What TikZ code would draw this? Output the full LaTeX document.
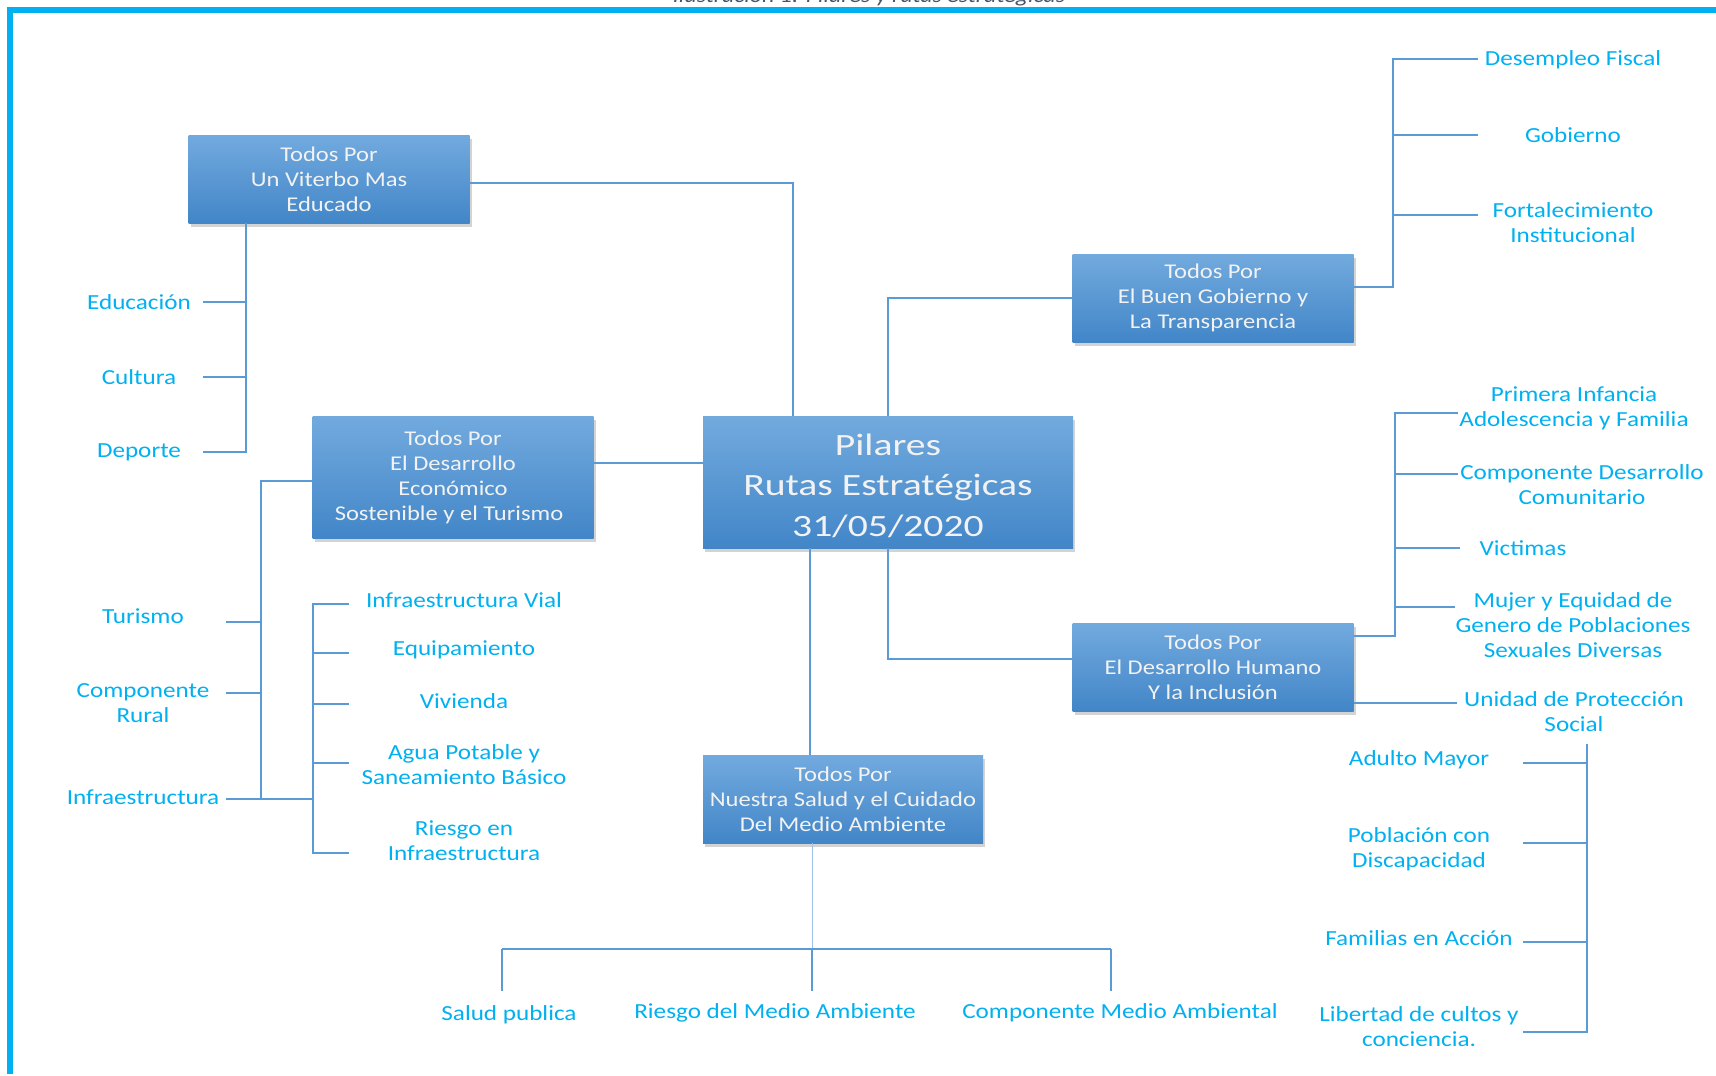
\documentclass[tikz,border=0pt]{standalone}
\usepackage{fontspec}
\setmainfont{Carlito}[FakeStretch=1.17]
\newfontfamily\fuentecentral{Carlito}[FakeStretch=1.28]
\usetikzlibrary{shadows}
\definecolor{celeste}{HTML}{00B0F0}
\definecolor{linea}{HTML}{5B9BD5}
\definecolor{lineafina}{HTML}{9DC3E6}
\definecolor{cajaarriba}{RGB}{114,170,222}
\definecolor{cajaabajo}{RGB}{66,134,200}
\definecolor{leyenda}{HTML}{44546A}
\begin{document}
\begin{tikzpicture}[x=1pt, y=-1pt,
  pilar/.style={rectangle, inner sep=0pt, minimum width=281, minimum height=88, top color=cajaarriba, bottom color=cajaabajo, text=white!95!black, align=center, font=\fontsize{21}{25}\selectfont, drop shadow={shadow xshift=2pt, shadow yshift=-4pt, opacity=0.35}},
  etiq/.style={inner sep=0pt, align=center, text=celeste, font=\fontsize{21.5}{25}\selectfont},
  rama/.style={draw=linea, line width=2pt},
  fina/.style={draw=lineafina, line width=1pt}]
\useasboundingbox (0,0) rectangle (1716,1076);
\fill[celeste] (7,7) rectangle (1716,13);
\fill[celeste] (7,7) rectangle (13,1074);
\node[anchor=base, text=leyenda, font=\fontsize{20.5}{24}\selectfont\itshape] (titulo) at (869,2) {Ilustración 1: Pilares y rutas estratégicas};
\node[pilar] (edu) at (329,179) {Todos Por\\Un Viterbo Mas\\Educado};
\node[pilar, minimum width=370, minimum height=132, font=\fontsize{31}{40.5}\fuentecentral] (pil) at (888,482) {\rule{0pt}{29pt}Pilares\\Rutas Estratégicas\\31/05/2020};
\node[pilar, minimum height=122] (eco) at (453,477) {Todos Por\\El Desarrollo\\Económico\\Sostenible y el Turismo\hspace*{8pt}};
\node[pilar] (gob) at (1213,298) {Todos Por\\El Buen Gobierno y\\La Transparencia};
\node[pilar] (hum) at (1213,667) {Todos Por\\El Desarrollo Humano\\Y la Inclusión};
\node[pilar, minimum width=280] (sal) at (843,799) {Todos Por\\Nuestra Salud y el Cuidado\\Del Medio Ambiente};
\draw[rama] ([yshift=-4pt]edu.east) -| ([xshift=-95pt]pil.north);
\draw[rama] (pil.north) |- (gob.west);
\draw[rama] ([yshift=14pt]eco.east) -- ([yshift=14pt]eco.east -| pil.west);
\draw[rama] ([xshift=-78pt]pil.south) -- ([xshift=-78pt]pil.south |- sal.north);
\draw[rama] (pil.south) |- ([yshift=8pt]hum.west);
\node[etiq, minimum width=128] (educ) at (139,302) {Educación};
\node[etiq, minimum width=128] (cult) at (139,377) {Cultura};
\node[etiq, minimum width=128] (depo) at (139,452) {Deporte};
\coordinate (llaveA) at ([xshift=-83pt]edu.south);
\draw[rama] (llaveA) |- (depo.east);
\draw[rama] (educ.east) -- (educ.east -| llaveA);
\draw[rama] (cult.east) -- (cult.east -| llaveA);
\node[etiq, minimum width=166] (turi) at (143,616) {Turismo};
\node[etiq, minimum width=166] (crur) at (143,703) {Componente\\Rural};
\node[etiq, minimum width=166] (infr) at (143,797) {Infraestructura};
\coordinate (llaveB) at ([xshift=-51pt,yshift=-4pt]eco.west);
\coordinate (llaveC) at (313,799);
\draw[rama] ([yshift=-4pt]eco.west) -- (llaveB) |- ([yshift=-2pt]infr.east);
\draw[rama] ([yshift=-6pt]turi.east) -- ([yshift=-6pt]turi.east -| llaveB);
\draw[rama] ([yshift=10pt]crur.east) -- ([yshift=10pt]crur.east -| llaveB);
\draw[rama] ([yshift=-2pt]infr.east) -- (llaveC);
\node[etiq, minimum width=230] (ivia) at (464,600) {Infraestructura Vial};
\node[etiq, minimum width=230] (equi) at (464,650) {Equipamiento};
\node[etiq, minimum width=230] (vivi) at (464,701) {Vivienda};
\node[etiq, minimum width=230] (agua) at (464,765) {Agua Potable y\\Saneamiento Básico};
\node[etiq, minimum width=230] (ries) at (464,841) {Riesgo en\\Infraestructura};
\draw[rama] ([yshift=-4pt]ivia.west) -| ([yshift=-12pt]ries.west -| llaveC) -- ([yshift=-12pt]ries.west);
\draw[rama] ([yshift=-3pt]equi.west) -- ([yshift=-3pt]equi.west -| llaveC);
\draw[rama] ([yshift=-3pt]vivi.west) -- ([yshift=-3pt]vivi.west -| llaveC);
\draw[rama] ([yshift=2pt]agua.west) -- ([yshift=2pt]agua.west -| llaveC);
\node[etiq, minimum width=190] (dfis) at (1573,60) {Desempleo Fiscal};
\node[etiq, minimum width=190] (gobi) at (1573,135) {Gobierno};
\node[etiq, minimum width=190] (fort) at (1573,223) {Fortalecimiento\\Institucional};
\coordinate (llaveD) at ([xshift=39pt,yshift=11pt]gob.east);
\draw[rama] ([yshift=11pt]gob.east) -- (llaveD) |- ([yshift=1pt]dfis.west);
\draw[rama] (gobi.west) -- (gobi.west -| llaveD);
\draw[rama] ([yshift=8pt]fort.west) -- ([yshift=8pt]fort.west -| llaveD);
\node[etiq, minimum width=232] (pinf) at (1574,408) {Primera Infancia\\Adolescencia y Familia};
\node[etiq, minimum width=248] (cdes) at (1582,485) {Componente Desarrollo\\Comunitario};
\node[etiq, minimum width=126] (vict) at (1523,548) {Victimas};
\node[etiq, minimum width=230] (mujer) at (1573,625) {Mujer y Equidad de\\Genero de Poblaciones\\Sexuales Diversas};
\node[etiq, minimum width=234] (unid) at (1574,712) {Unidad de Protección\\Social};
\coordinate (llaveE) at ([xshift=41pt,yshift=31pt]hum.east);
\draw[rama] ([yshift=31pt]hum.east) -- (llaveE) |- ([yshift=-5pt]pinf.west);
\draw[rama] ([yshift=11pt]cdes.west) -- ([yshift=11pt]cdes.west -| llaveE);
\draw[rama] (vict.west) -- (vict.west -| llaveE);
\draw[rama] ([yshift=18pt]mujer.west) -- ([yshift=18pt]mujer.west -| llaveE);
\draw[rama] ([yshift=-36pt]hum.east) -- ([yshift=9pt]unid.west);
\node[etiq, minimum width=208] (amay) at (1419,760) {Adulto Mayor};
\node[etiq, minimum width=208] (pdis) at (1419,849) {Población con\\Discapacidad};
\node[etiq, minimum width=208] (fami) at (1419,938) {Familias en Acción};
\node[etiq, minimum width=208] (libe) at (1419,1027) {Libertad de cultos y\\conciencia.};
\coordinate (llaveF) at (1587,744);
\draw[rama] (llaveF) |- ([yshift=-5pt]libe.east);
\draw[rama] ([yshift=-3pt]amay.east) -- ([yshift=-3pt]amay.east -| llaveF);
\draw[rama] ([yshift=6pt]pdis.east) -- ([yshift=6pt]pdis.east -| llaveF);
\draw[rama] ([yshift=-4pt]fami.east) -- ([yshift=-4pt]fami.east -| llaveF);
\node[etiq] (salp) at (509,1015) {Salud publica};
\node[etiq] (rmed) at (775,1013) {Riesgo del Medio Ambiente};
\node[etiq] (cmed) at (1120,1013) {Componente Medio Ambiental};
\coordinate (llaveG) at ([xshift=-31pt,yshift=-106pt]sal.south);
\coordinate (gizq) at ([xshift=-7pt]salp.north |- llaveG);
\coordinate (gder) at ([xshift=-9pt]cmed.north |- llaveG);
\draw[fina] ([xshift=-31pt]sal.south) -- (llaveG);
\draw[rama] (gizq) -- (gder);
\draw[rama] (gizq) -- ++(0,42);
\draw[rama] (llaveG) -- ++(0,42);
\draw[rama] (gder) -- ++(0,42);
\end{tikzpicture}
\end{document}
